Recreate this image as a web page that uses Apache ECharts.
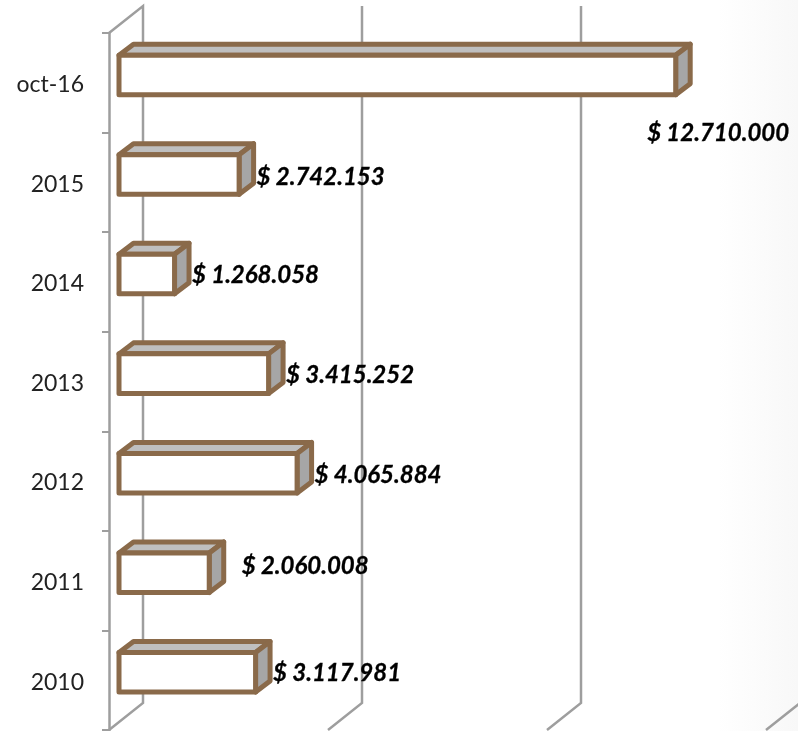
<!DOCTYPE html>
<html><head><meta charset="utf-8">
<style>html,body{margin:0;padding:0;background:#fff}#c{width:798px;height:731px}</style>
<script src="https://cdn.jsdelivr.net/npm/echarts@6/dist/echarts.min.js"></script>
</head><body><div id="c"></div>
<script>
const categories = ['oct-16','2015','2014','2013','2012','2011','2010'];
const amounts = [12710000,2742153,1268058,3415252,4065884,2060008,3117981];
const gridValues = [0,5000000,10000000,15000000];
// label nudges relative to the default spot right of each bar [dx, dy]
const labelNudges = [[-46,58],[0,3],[0,1],[0,2],[0,2],[15,-7],[0,1]];

const fmt = v => '$ ' + String(v).replace(/\B(?=(\d{3})+$)/g,'.');
const BROWN = '#8a6a4a', GRID = '#9e9e9e';

function renderGrid(params, api){
  const v = api.value(0);
  const cs = params.coordSys;
  const x = api.coord([v,0])[0] + 24;
  const top = cs.y - 27, bot = cs.y + cs.height - 27;
  const pts = [[x,top],[x,bot],[x-34,bot+27]];
  if (v === 0) pts.unshift([x-34,top+27]);
  return {type:'polyline',shape:{points:pts},style:{stroke:GRID,lineWidth:2.5,fill:'none'}};
}
function renderBar(params, api){
  const i = params.dataIndex;
  const c = api.coord([api.value(0), api.value(1)]);
  const o = api.coord([0, api.value(1)]);
  const band = api.size([0,1])[1];
  const h = band*0.397, dx = 14.5, dy = -11;
  const x0 = o[0], x1 = c[0], yT = c[1]-band*0.079-h/2, yB = yT+h;
  const line = {stroke:BROWN,lineWidth:5,lineJoin:'round'};
  const n = labelNudges[i];
  return {type:'group',children:[
    {type:'polygon',shape:{points:[[x0,yT],[x0+dx,yT+dy],[x1+dx,yT+dy],[x1,yT]]},style:{fill:'#bfbfbf',...line}},
    {type:'polygon',shape:{points:[[x1,yT],[x1+dx,yT+dy],[x1+dx,yB+dy],[x1,yB]]},style:{fill:'#a6a6a6',...line}},
    {type:'rect',shape:{x:x0,y:yT,width:x1-x0,height:h},style:{fill:'#ffffff',...line}},
    {type:'text',z2:10,style:{x:x1+dx+3+n[0],y:(yT+yB)/2+n[1],text:fmt(api.value(0)),
      font:'italic bold 24px Lato',fill:'#000',stroke:'#000',lineWidth:0.3,align:'left',verticalAlign:'middle'}}
  ]};
}

const chart = echarts.init(document.getElementById('c'),null,{renderer:'canvas'});
chart.setOption({
  animation:false,
  backgroundColor:{type:'linear',x:0,y:0,x2:1,y2:0,colorStops:[
    {offset:0,color:'#ffffff'},{offset:0.9,color:'#ffffff'},{offset:1,color:'#f8f8f8'}]},
  grid:{left:119,top:33,width:657,height:697,containLabel:false},
  xAxis:{type:'value',min:0,max:15000000,interval:5000000,show:false},
  yAxis:{type:'category',data:categories,inverse:true,offset:10,
    axisLine:{show:true,onZero:false,lineStyle:{color:GRID,width:2.5}},
    axisTick:{show:true,length:7,alignWithLabel:false,lineStyle:{color:GRID,width:2}},
    axisLabel:{margin:25,fontFamily:'Lato',fontSize:23,color:'#222',align:'right',verticalAlign:'top',lineHeight:4}},
  series:[
    {type:'custom',z:1,silent:true,renderItem:renderGrid,encode:{x:0},
      data:gridValues.map(v=>[v,0])},
    {type:'custom',z:2,silent:true,renderItem:renderBar,encode:{x:0,y:1},
      data:amounts.map((v,i)=>[v,i])}
  ]
});
</script></body></html>
